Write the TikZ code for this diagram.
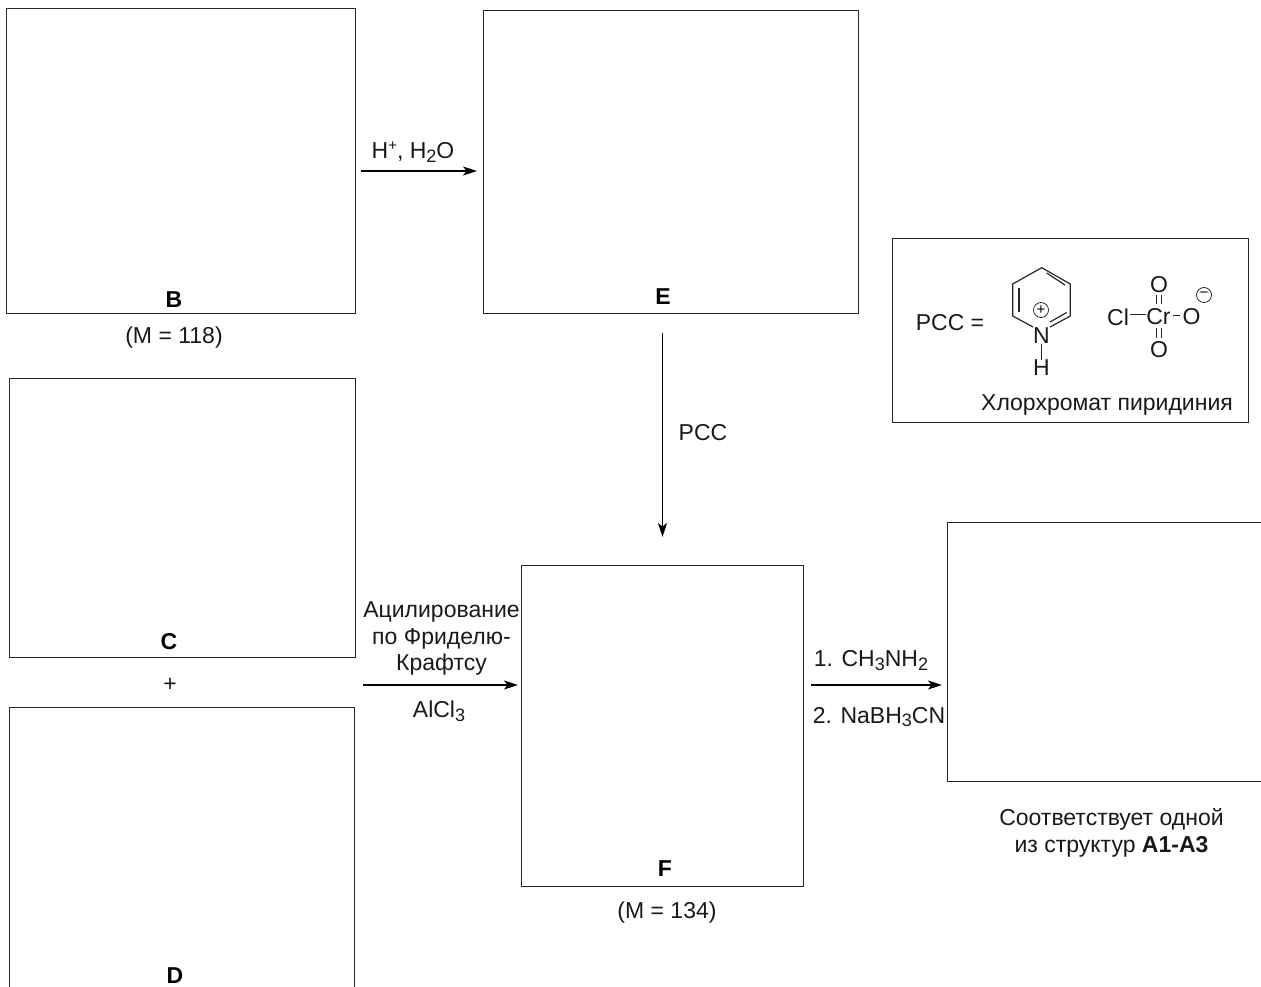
\documentclass[tikz,border=0pt]{standalone}
\usepackage{fontspec}
\setmainfont{Liberation Sans}
\usetikzlibrary{arrows.meta}
\newcommand{\sbs}[1]{\raisebox{-0.32ex}{\fontsize{18}{18}\selectfont #1}}
\newcommand{\sps}[1]{\raisebox{0.62ex}{\fontsize{15}{15}\selectfont #1}}
\tikzset{
  box/.style={draw=black!85,line width=1pt,inner sep=0pt,outer sep=0pt,anchor=north west},
  txt/.style={inner sep=0pt,outer sep=0pt,font=\fontsize{23}{27}\selectfont,text=black!90,align=center},
  lab/.style={inner sep=0pt,outer sep=0pt,font=\fontsize{23}{27}\selectfont\bfseries},
  atom/.style={inner sep=0pt,outer sep=0pt,font=\fontsize{23}{27}\selectfont,text=black!90},
  conn/.style={line width=1.4pt,-{Stealth[length=14pt,width=9pt,inset=3.5pt]}},
  bond/.style={line width=1.2pt,black!85},
  chg/.style={circle,draw=black!85,line width=0.8pt,minimum size=15pt,inner sep=0pt,outer sep=0pt,font=\fontsize{15}{15}\selectfont}
}
\begin{document}
\begin{tikzpicture}[x=1pt,y=-1pt]
\useasboundingbox (0,0) rectangle (1261,987);
\clip (0,0) rectangle (1261,987);
\node[box,minimum width=349pt,minimum height=305pt] (B) at (6.5,8.5) {};
\node[box,minimum width=375pt,minimum height=303pt] (E) at (483,10.5) {};
\node[box,minimum width=346pt,minimum height=279pt] (C) at (9.5,378.5) {};
\node[box,minimum width=345pt,minimum height=320pt] (D) at (9.5,707.5) {};
\node[box,minimum width=282pt,minimum height=321pt] (F) at (521.5,565.5) {};
\node[box,minimum width=330pt,minimum height=259pt] (G) at (947.5,522.5) {};
\node[box,minimum width=356pt,minimum height=184pt] (P) at (892.5,238.5) {};

\node[lab] (lB) at (174,300) {B};
\node[lab] (lE) at (663,297) {E};
\node[lab] (lC) at (169,642) {C};
\node[lab] (lD) at (175,976) {D};
\node[lab] (lF) at (665,869) {F};
\node[txt] (mB) at (174,338) {(M = 118)};
\node[txt] (mF) at (667,913) {(M = 134)};
\node[txt] (plus) at (170,685) {+};

\coordinate (a1s) at (361,171); \coordinate (a1e) at (477,171);
\coordinate (a2s) at (662.5,333); \coordinate (a2e) at (662.5,537);
\coordinate (a3s) at (363,685); \coordinate (a3e) at (518,685);
\coordinate (a4s) at (811,685); \coordinate (a4e) at (942,685);
\draw[conn] (a1s) -- (a1e);
\draw[conn] (a2s) -- (a2e);
\draw[conn] (a3s) -- (a3e);
\draw[conn] (a4s) -- (a4e);

\node[txt] (t1) at (413,152) {H\sps{+}, H\sbs{2}O};
\node[txt] (t2) at (703,433) {PCC};
\node[txt,font=\fontsize{23}{26.5}\selectfont] (t3) at (441.5,638.5) {Ацилирование\\по Фриделю-\\Крафтсу};
\node[txt] (t4) at (439,711) {AlCl\sbs{3}};
\node[txt] (t5) at (871,660.5) {1. CH\sbs{3}NH\sbs{2}};
\node[txt] (t6) at (879,717) {2. NaBH\sbs{3}CN};
\node[txt,font=\fontsize{23}{26.5}\selectfont] (t7) at (1111.5,833) {Соответствует одной\\из структур \textbf{A1-A3}};

\node[txt] (pcc) at (950,322.5) {PCC =};
\node[txt] (hp) at (1107,405) {Хлорхромат пиридиния};

% pyridinium
\node[atom] (N) at (1041.5,336) {N};
\node[atom] (H) at (1041.5,368) {H};
\draw[bond] (1033,327) -- (1012.7,316) -- (1012.7,284) -- (1041.7,267.7) -- (1070.3,284) -- (1070.3,316) -- (1050,327);
\draw[bond] (1019,288) -- (1019,312);
\draw[bond] (1046.7,273) -- (1065,285);
\draw[bond] (1050,322) -- (1066.7,312.5);
\draw[bond] (N) -- (H);
\node[chg] (pl) at (1041,310) {+};

% chromate
\node[atom] (Cl) at (1118,317) {Cl};
\node[atom] (Cr) at (1158.5,317) {Cr};
\node[atom] (O1) at (1191.5,317) {O};
\node[atom] (O2) at (1159,285) {O};
\node[atom] (O3) at (1159,349.5) {O};
\draw[bond] (1130,314.5) -- (1146,314.5);
\draw[bond] (1173,315.5) -- (1180,315.5);
\draw[bond] (1156.5,295) -- (1156.5,304);
\draw[bond] (1161.5,295) -- (1161.5,304);
\draw[bond] (1156.5,328) -- (1156.5,338);
\draw[bond] (1161.5,328) -- (1161.5,338);
\node[chg] (mn) at (1204,295) {\raisebox{1pt}{−}};
\end{tikzpicture}
\end{document}
